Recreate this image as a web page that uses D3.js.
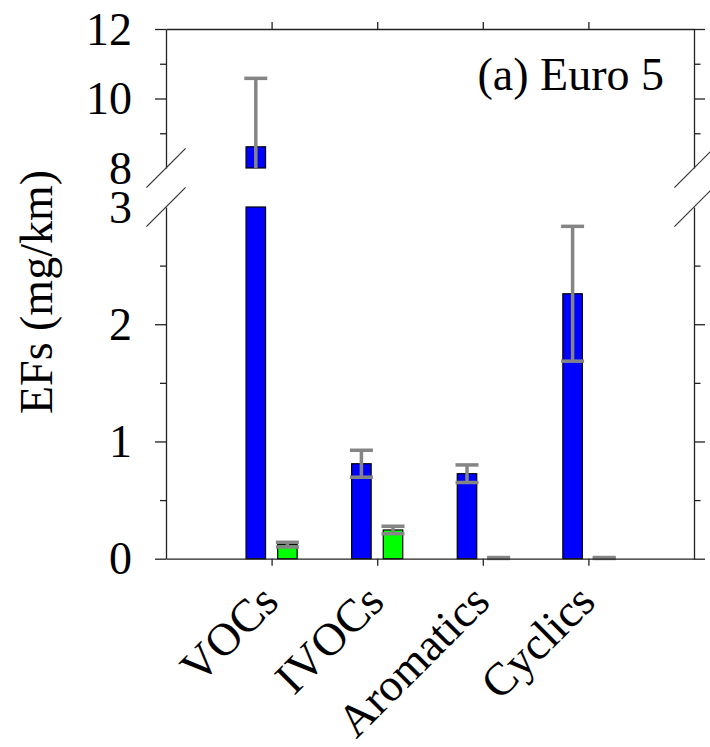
<!DOCTYPE html>
<html>
<head>
<meta charset="utf-8">
<script src="https://cdn.jsdelivr.net/npm/d3@7"></script>
<style>
  html, body { margin: 0; padding: 0; background: #fff; }
  svg { display: block; }
  text { font-family: "Liberation Serif", "Times New Roman", serif; fill: #000; }
</style>
</head>
<body>
<svg id="chart" width="710" height="747"></svg>
<script>
// ---- data ----
const categories = ["VOCs", "IVOCs", "Aromatics", "Cyclics"];
const seriesNames = ["Series A", "Series B"];
const blueValues = [8.61, 0.81, 0.725, 2.26];
const blueErrors = [1.97, 0.115, 0.075, 0.575];
const greenValues = [0.12, 0.245, 0.006, 0.006];
const greenErrors = [0.02, 0.032, 0.004, 0.004];
const lowerTicksMajor = [0, 1, 2, 3];
const lowerTicksMinor = [0.5, 1.5, 2.5];
const upperTicksMajor = [8, 10, 12];
const upperTicksMinor = [9, 11];
const panelLabel = "(a) Euro 5";
const yTitle = "EFs (mg/km)";

// ---- layout ----
const svg = d3.select("#chart");
const left = 166, right = 694;
const lowDomain = [0, 3], highDomain = [8, 12];
const x = d3.scaleLinear().domain([0, categories.length + 1]).range([left, right]);
const yLow = d3.scaleLinear().domain(lowDomain).range([558.7, 207]);
const yHigh = d3.scaleLinear().domain(highDomain).range([168, 29]);
const barW = 19.5, barOff = 15.8, capHalf = 11.5;
const axisColor = "#222";
const fs = 46;

const series = [
  { name: seriesNames[0], values: blueValues, errors: blueErrors, color: "#0000ff", off: -barOff },
  { name: seriesNames[1], values: greenValues, errors: greenErrors, color: "#00ff00", off: barOff }
];

const panels = [
  { y: yLow, dom: lowDomain, major: lowerTicksMajor, minor: lowerTicksMinor, breakVal: 3 },
  { y: yHigh, dom: highDomain, major: upperTicksMajor, minor: upperTicksMinor, breakVal: 8 }
];

function styleAxis(g) {
  g.selectAll("path, line").attr("stroke", axisColor).attr("stroke-width", 1.3);
  g.selectAll("text").style("font-family", '"Liberation Serif", serif').style("font-size", fs + "px").attr("fill", "#000");
}

// bars
const gBars = svg.append("g");
panels.forEach(p => {
  series.forEach(s => {
    s.values.forEach((v, i) => {
      if (v <= p.dom[0]) return;
      const top = Math.min(v, p.dom[1]);
      gBars.append("rect")
        .attr("x", x(i + 1) + s.off - barW / 2)
        .attr("width", barW)
        .attr("y", p.y(top))
        .attr("height", Math.max(0.8, p.y(p.dom[0]) - p.y(top)))
        .attr("fill", s.color)
        .attr("stroke", "#000")
        .attr("stroke-width", 1.2);
    });
  });
});

// error bars
const gErr = svg.append("g").attr("stroke", "#858585").attr("stroke-width", 3.5).attr("fill", "none");
panels.forEach(p => {
  series.forEach(s => {
    s.values.forEach((v, i) => {
      const lo = v - s.errors[i], hi = v + s.errors[i];
      const a = Math.max(lo, p.dom[0]), b = Math.min(hi, p.dom[1]);
      if (a > b) return;
      const cx = x(i + 1) + s.off;
      gErr.append("line").attr("x1", cx).attr("x2", cx).attr("y1", p.y(a)).attr("y2", p.y(b) + (hi <= p.dom[1] ? 0 : 0));
      [lo, hi].forEach(e => {
        if (e >= p.dom[0] && e <= p.dom[1]) {
          gErr.append("line").attr("x1", cx - capHalf).attr("x2", cx + capHalf)
            .attr("y1", p.y(e)).attr("y2", p.y(e));
        }
      });
    });
  });
});

// y axes (left and right) per panel
panels.forEach(p => {
  const gl = svg.append("g").attr("transform", `translate(${left},0)`)
    .call(d3.axisLeft(p.y).tickValues(p.major).tickSize(11).tickSizeOuter(0).tickPadding(23).tickFormat(d3.format("d")));
  gl.selectAll(".tick").filter(d => d === p.breakVal).select("line").remove();
  gl.selectAll(".tick text").attr("dy", "0.33em");
  styleAxis(gl);
  const glm = svg.append("g").attr("transform", `translate(${left},0)`)
    .call(d3.axisLeft(p.y).tickValues(p.minor).tickSize(6).tickSizeOuter(0).tickFormat(""));
  glm.select(".domain").remove();
  styleAxis(glm);

  const gr = svg.append("g").attr("transform", `translate(${right},0)`)
    .call(d3.axisRight(p.y).tickValues(p.major).tickSize(11).tickSizeOuter(0).tickFormat(""));
  gr.selectAll(".tick").filter(d => d === p.breakVal).select("line").remove();
  styleAxis(gr);
  const grm = svg.append("g").attr("transform", `translate(${right},0)`)
    .call(d3.axisRight(p.y).tickValues(p.minor).tickSize(6.5).tickSizeOuter(0).tickFormat(""));
  grm.select(".domain").remove();
  styleAxis(grm);
});

// top & bottom axes
const catTicks = categories.map((c, i) => i + 1);
const gTop = svg.append("g").attr("transform", `translate(0,${yHigh(12)})`)
  .call(d3.axisTop(x).tickValues(catTicks).tickSize(7).tickSizeOuter(0).tickFormat(""));
styleAxis(gTop);
const gBot = svg.append("g").attr("transform", `translate(0,${yLow(0)})`)
  .call(d3.axisBottom(x).tickValues(catTicks).tickSize(7).tickSizeOuter(0).tickFormat(""));
styleAxis(gBot);

// category labels (rotated)
svg.append("g").selectAll("text").data(categories).join("text")
  .attr("transform", (d, i) => `translate(${x(i + 1) + 9},${604}) rotate(-45)`)
  .attr("text-anchor", "end")
  .style("font-size", fs + "px")
  .text(d => d);

// axis break marks
const gBreak = svg.append("g").attr("stroke", "#333").attr("stroke-width", 1.2);
[left, right].forEach(ax => {
  [yHigh(8), yLow(3)].forEach(yy => {
    gBreak.append("line").attr("x1", ax - 19.6).attr("y1", yy + 19.6).attr("x2", ax + 19.6).attr("y2", yy - 19.6);
  });
});

// y title
svg.append("text")
  .attr("transform", "translate(52,292) rotate(-90)")
  .attr("text-anchor", "middle")
  .style("font-size", fs + "px")
  .text(yTitle);

// panel label
svg.append("text")
  .attr("x", 664).attr("y", 89.5)
  .attr("text-anchor", "end")
  .style("font-size", fs + "px")
  .text(panelLabel);
</script>
</body>
</html>
